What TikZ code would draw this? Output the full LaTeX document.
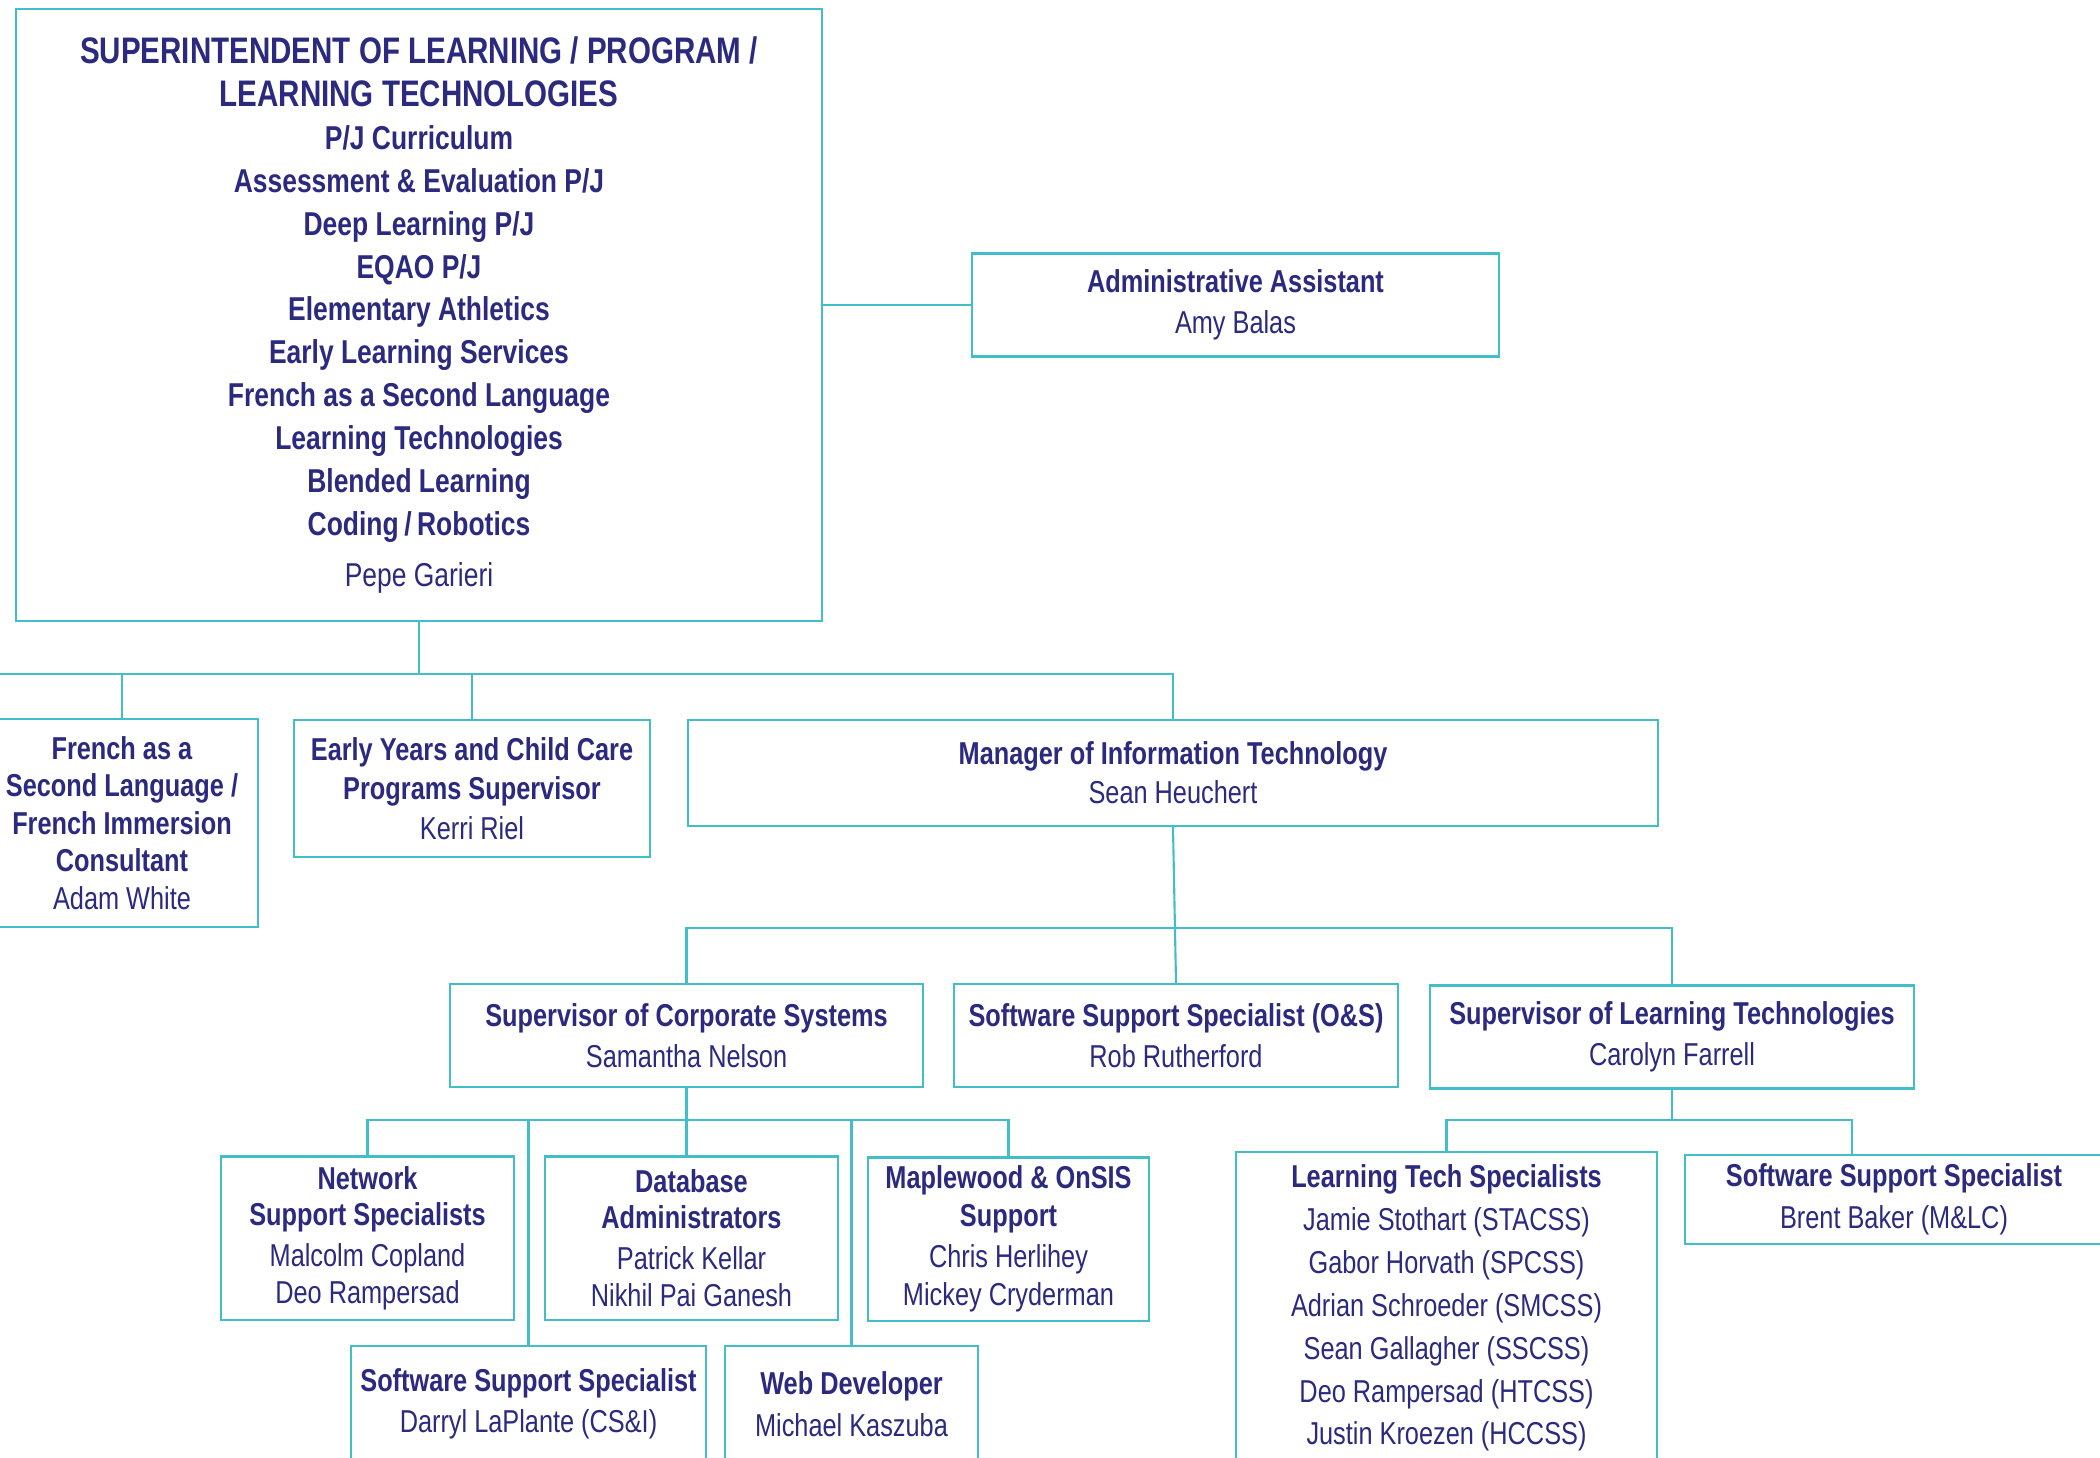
\documentclass[tikz,border=0pt]{standalone}
\usepackage{fontspec}
\setmainfont{Liberation Sans}[FakeStretch=0.8]
\usepackage{tikz}
\definecolor{lineteal}{RGB}{66,190,200}
\definecolor{navy}{RGB}{43,42,127}
\newcommand{\bigtitle}[1]{{\fontsize{10.5}{12.2}\selectfont\bfseries #1}}
\tikzset{
	box/.style 2 args={draw=lineteal,line width=0.6pt,fill=white,text=navy,align=center,inner sep=0pt,minimum width=#1,minimum height=#2,font=\fontsize{9}{11.8}\selectfont},
	link/.style={draw=lineteal,line width=0.6pt}
}

\begin{document}
\begin{tikzpicture}[x=0.01cm,y=-0.01cm]
						\useasboundingbox (0,0) rectangle (2100,1458);
						\clip (0,0) rectangle (2100,1458);

						\node [box={8.06cm}{6.12cm},font=\fontsize{9.4}{12.2}\selectfont] (super) at (419,315) {\bigtitle{SUPERINTENDENT OF LEARNING / PROGRAM /}\\\bigtitle{LEARNING TECHNOLOGIES}\\\textbf{P/J Curriculum}\\\textbf{Assessment \& Evaluation P/J}\\\textbf{Deep Learning P/J}\\\textbf{EQAO P/J}\\\textbf{Elementary Athletics}\\\textbf{Early Learning Services}\\\textbf{French as a Second Language}\\\textbf{Learning Technologies}\\\textbf{Blended Learning}\\\textbf{Coding\,/\,Robotics}\\[2.3pt]Pepe Garieri};
						\node [box={5.27cm}{1.03cm}] (admin) at (1235.5,305) {\textbf{Administrative Assistant}\\Amy Balas};

						\node [box={2.72cm}{2.08cm},font=\fontsize{9}{10.7}\selectfont] (fsl) at (122,823) {\textbf{French as a}\\\textbf{Second Language /}\\\textbf{French Immersion}\\\textbf{Consultant}\\Adam White};
						\node [box={3.55cm}{1.37cm},font=\fontsize{9}{11.2}\selectfont] (early) at (472,788.5) {\textbf{Early Years and Child Care}\\\textbf{Programs Supervisor}\\Kerri Riel};
						\node [box={9.70cm}{1.06cm},font=\fontsize{9}{11}\selectfont] (mgr) at (1173,773) {\textbf{Manager of Information Technology}\\Sean Heuchert};

						\node [box={4.73cm}{1.03cm}] (corp) at (686.5,1035.5) {\textbf{Supervisor of Corporate Systems}\\Samantha Nelson};
						\node [box={4.44cm}{1.03cm}] (oss) at (1176,1035.5) {\textbf{Software Support Specialist (O\&S)}\\Rob Rutherford};
						\node [box={4.84cm}{1.03cm}] (suplt) at (1672,1037) {\textbf{Supervisor of Learning Technologies}\\Carolyn Farrell};

						\node [box={2.93cm}{1.63cm},font=\fontsize{9}{10.4}\selectfont] (net) at (367.5,1238) {\textbf{Network}\\\textbf{Support Specialists}\\[1.2pt]Malcolm Copland\\Deo Rampersad};
						\node [box={2.93cm}{1.63cm},font=\fontsize{9}{10.4}\selectfont] (db) at (691.5,1238) {\textbf{Database}\\\textbf{Administrators}\\[1.2pt]Patrick Kellar\\Nikhil Pai Ganesh};
						\node [box={2.81cm}{1.63cm},font=\fontsize{9}{10.8}\selectfont] (maple) at (1008.5,1239) {\textbf{Maplewood \& OnSIS}\\\textbf{Support}\\[0.8pt]Chris Herlihey\\Mickey Cryderman};
						\node [box={3.55cm}{1.16cm}] (csi) at (528.5,1404) {\textbf{Software Support Specialist}\\Darryl LaPlante (CS\&I)};
						\node [box={2.53cm}{1.16cm}] (web) at (851.5,1404) {\textbf{Web Developer}\\Michael Kaszuba};

						\node [box={4.21cm}{3.12cm},font=\fontsize{9}{12.2}\selectfont] (lts) at (1446.5,1308) {\textbf{Learning Tech Specialists}\\Jamie Stothart (STACSS)\\Gabor Horvath (SPCSS)\\Adrian Schroeder (SMCSS)\\Sean Gallagher (SSCSS)\\Deo Rampersad (HTCSS)\\Justin Kroezen (HCCSS)};
						\node [box={4.18cm}{0.89cm}] (brent) at (1894,1199.5) {\textbf{Software Support Specialist}\\Brent Baker (M\&LC)};

						% top level
						\coordinate (topbus) at (0,674);
						\draw [link] (admin.west) -- (admin.west -| super.east);
						\draw [link] (super.south) -- (super.south |- topbus);
						\draw [link] (topbus) -| (mgr.north);
						\draw [link] (fsl.north) -- (fsl.north |- topbus);
						\draw [link] (early.north) -- (early.north |- topbus);

						% information technology
						\coordinate (itbus) at (1176,928);
						\draw [link] (corp.north) |- (itbus) -| (suplt.north);
						\draw [link] (mgr.south) -- (oss.north);

						% corporate systems
						\coordinate (corpbus) at (686,1120);
						\draw [link] (net.north) |- (corpbus) -| (maple.north);
						\draw [link] (corp.south) -- (corp.south |- db.north);
						\draw [link] (csi.north) -- (csi.north |- corpbus);
						\draw [link] (web.north) -- (web.north |- corpbus);

						% learning technologies
						\coordinate (ltbus) at (1672,1120);
						\draw [link] (suplt.south) -- (ltbus);
						\draw [link] (lts.north) |- (ltbus) -| ([xshift=-0.42cm]brent.north);
					\end{tikzpicture}
\end{document}
